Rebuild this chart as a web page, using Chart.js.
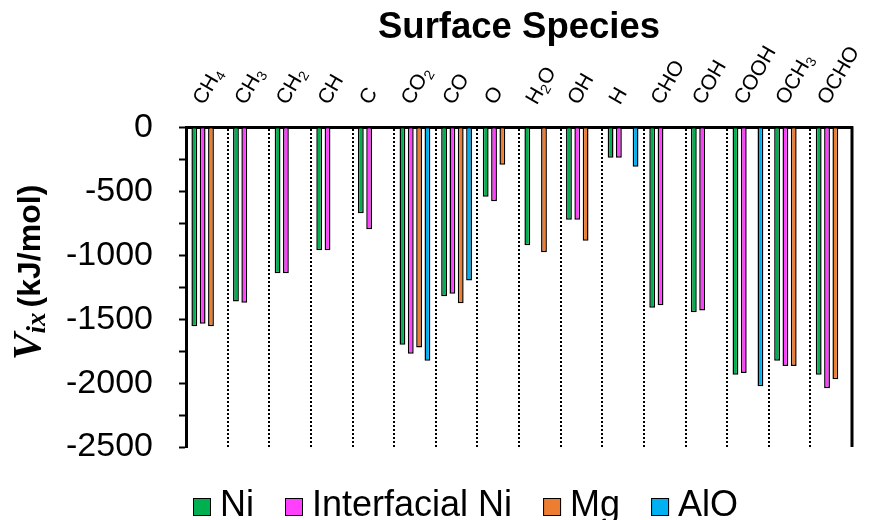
<!DOCTYPE html>
<html>
<head>
<meta charset="utf-8">
<script src="https://cdn.jsdelivr.net/npm/chart.js@4.4.0/dist/chart.umd.min.js"></script>
<style>
    html, body { margin: 0; padding: 0; background: #fff; }
    #wrap { width: 871px; height: 520px; position: relative; }
</style>
</head>
<body>
<div id="wrap"><canvas id="chart"></canvas></div>
<script>
// Données (kJ/mol)
const species = ['CH4', 'CH3', 'CH2', 'CH', 'C', 'CO2', 'CO', 'O', 'H2O', 'OH', 'H', 'CHO', 'COH', 'COOH', 'OCH3', 'OCHO'];
const niValues = [-1555, -1360, -1140, -960, -670, -1700, -1320, -540, -920, -720, -235, -1410, -1445, -1935, -1825, -1935];
const interfacialNiValues = [-1535, -1370, -1140, -960, -795, -1770, -1300, -575, null, -720, -235, -1390, -1430, -1920, -1865, -2040];
const mgValues = [-1555, null, null, null, null, -1720, -1375, -290, -975, -885, null, null, null, null, -1865, -1970];
const aloValues = [null, null, null, null, null, -1825, -1195, null, null, null, -305, null, null, -2025, null, null];
const seriesNames = ['Ni', 'Interfacial Ni', 'Mg', 'AlO'];
const yMin = -2500;
const yMax = 0;
const yStep = 250;

const SANS = '"Liberation Sans", Arial, sans-serif';
const SERIF = '"Liberation Serif", "Times New Roman", serif';

// Découpe "CH4" en morceaux, les chiffres en indice
function splitLabel(txt) {
    return txt.split(/(\d+)/).filter(s => s).map(s => ({ text: s, sub: /^\d+$/.test(s) }));
}

const decorPlugin = {
    id: 'decor',
    afterDraw(chart) {
        const ctx = chart.ctx;
        const area = chart.chartArea;
        const xs = chart.scales.x;
        ctx.save();

        // bordure droite
        ctx.strokeStyle = '#000';
        ctx.lineWidth = 3;
        ctx.beginPath();
        ctx.moveTo(area.right, area.top - 1.5);
        ctx.lineTo(area.right, area.bottom);
        ctx.stroke();

        // étiquettes des espèces, inclinées
        ctx.fillStyle = '#000';
        ctx.textAlign = 'left';
        ctx.textBaseline = 'alphabetic';
        species.forEach((name, i) => {
            const cx = xs.getPixelForValue(i);
            ctx.save();
            ctx.translate(cx - 3, area.top - 22);
            ctx.rotate(-Math.PI / 3);
            let x = 0;
            splitLabel(name).forEach(part => {
                ctx.font = (part.sub ? '14px ' : '21px ') + SANS;
                ctx.fillText(part.text, x, part.sub ? 4 : 0);
                x += ctx.measureText(part.text).width;
            });
            ctx.restore();
        });

        // titre de l'axe Y : V_ix (kJ/mol)
        const parts = [
            { text: 'V', font: 'italic bold 40px ' + SERIF, dy: 0, gap: 0 },
            { text: 'ix', font: 'italic bold 27px ' + SERIF, dy: 5, gap: 5 },
            { text: '(kJ/mol)', font: 'bold 32px ' + SANS, dy: 0, gap: 0 }
        ];
        let total = 0;
        parts.forEach(p => { ctx.font = p.font; p.w = ctx.measureText(p.text).width; total += p.w + p.gap; });
        ctx.save();
        ctx.translate(40, (area.top + area.bottom) / 2 - 15);
        ctx.rotate(-Math.PI / 2);
        let tx = -total / 2;
        parts.forEach(p => {
            ctx.font = p.font;
            ctx.fillText(p.text, tx, p.dy);
            tx += p.w + p.gap;
        });
        ctx.restore();

        // légende en bas
        ctx.font = '36px ' + SANS;
        let lx = area.left + 7;
        const box = 18;
        chart.data.datasets.forEach(ds => {
            ctx.fillStyle = ds.backgroundColor;
            ctx.fillRect(lx, 498, box, box);
            ctx.strokeStyle = '#000';
            ctx.lineWidth = 1;
            ctx.strokeRect(lx + 0.5, 498.5, box - 1, box - 1);
            ctx.fillStyle = '#000';
            ctx.fillText(ds.label, lx + box + 9, 516);
            lx += box + 9 + ctx.measureText(ds.label).width + 31;
        });

        ctx.restore();
    }
};

function makeDataset(label, values, color) {
    return {
        label: label,
        data: values,
        backgroundColor: color,
        borderColor: '#000',
        borderWidth: 1.5,
        categoryPercentage: 0.8,
        barPercentage: 0.7
    };
}

const config = {
    type: 'bar',
    data: {
        labels: species,
        datasets: [
            makeDataset(seriesNames[0], niValues, '#00B050'),
            makeDataset(seriesNames[1], interfacialNiValues, '#FF40FF'),
            makeDataset(seriesNames[2], mgValues, '#ED7D31'),
            makeDataset(seriesNames[3], aloValues, '#00B0F0')
        ]
    },
    options: {
        responsive: true,
        maintainAspectRatio: false,
        animation: false,
        layout: {
            padding: { left: 0, right: 19, top: 0, bottom: 73 }
        },
        plugins: {
            legend: { display: false },
            tooltip: { enabled: false },
            title: {
                display: true,
                fullSize: false,
                text: 'Surface Species',
                color: '#000',
                font: { family: SANS, size: 36.5, weight: 'bold' },
                padding: { top: 6, bottom: 0 }
            }
        },
        scales: {
            x: {
                position: 'top',
                ticks: { display: false },
                grid: {
                    display: true,
                    drawTicks: false,
                    offset: true,
                    color: '#000',
                    lineWidth: 2
                },
                border: { display: true, color: '#000', width: 3, dash: [2, 2] },
                afterFit: function(scale) {
                    scale.height = 128 - 50;
                    scale.paddingLeft = 0;
                    scale.paddingRight = 0;
                }
            },
            y: {
                min: yMin,
                max: yMax,
                ticks: {
                    stepSize: yStep,
                    autoSkip: false,
                    padding: 26,
                    color: '#000',
                    font: { family: SANS, size: 34 },
                    callback: function(value) {
                        return value % 500 === 0 ? value : '';
                    }
                },
                grid: {
                    drawOnChartArea: false,
                    drawTicks: true,
                    tickLength: 7,
                    tickColor: '#000',
                    tickWidth: 2,
                    color: '#000'
                },
                border: { display: true, color: '#000', width: 3 },
                afterFit: function(scale) {
                    scale.width = 186;
                    scale.paddingTop = 0;
                    scale.paddingBottom = 0;
                }
            }
        }
    },
    plugins: [decorPlugin]
};

new Chart(document.getElementById('chart'), config);
</script>
</body>
</html>
